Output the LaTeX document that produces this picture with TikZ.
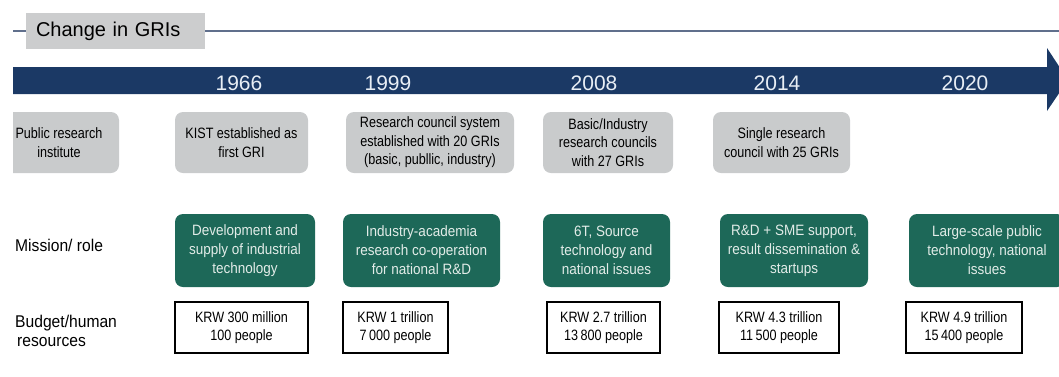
\documentclass[tikz,border=0pt]{standalone}
\usepackage{fontspec}
\setmainfont{Liberation Sans}
\newfontfamily\narrowfont[FakeStretch=0.84]{Liberation Sans}
\newfontfamily\rolefont[FakeStretch=0.9]{Liberation Sans}
\newfontfamily\labelfont[FakeStretch=0.92]{Liberation Sans}
\usetikzlibrary{positioning}
\definecolor{bandblue}{RGB}{27,57,101}
\definecolor{rulegray}{RGB}{96,111,140}
\definecolor{eragray}{RGB}{201,203,204}
\definecolor{titlegray}{RGB}{204,205,206}
\definecolor{rolegreen}{RGB}{29,104,88}
\definecolor{roletext}{RGB}{226,236,232}
\definecolor{yeartext}{RGB}{232,238,245}

\begin{document}
\begin{tikzpicture}[
  x=1pt, y=-1pt,
  box/.style={rectangle, rounded corners=8pt, align=center, inner sep=0pt},
  era/.style={box, fill=eragray, minimum height=61pt, text=black, font=\narrowfont\fontsize{15}{18.5}\selectfont},
  role/.style={box, fill=rolegreen, minimum height=73pt, text=roletext, font=\rolefont\fontsize{15}{19}\selectfont},
  fund/.style={rectangle, draw=black, line width=1.3pt, minimum height=51pt, align=center, inner sep=0pt, font=\narrowfont\fontsize{15}{17.5}\selectfont},
  titlebox/.style={rectangle, fill=titlegray, minimum height=36pt, text width=159pt, inner xsep=10pt, inner ysep=0pt, align=left, font=\fontsize{20}{22}\selectfont},
  year/.style={anchor=base, text=yeartext, font=\fontsize{21}{24}\selectfont},
  rowlabel/.style={anchor=west, align=left, inner sep=0pt, font=\labelfont\fontsize{17}{19}\selectfont},
  rule/.style={draw=rulegray, line width=2pt}
]
\clip (0,0) rectangle (1059,376);

% heading
\node[titlebox] (title) at (115.5,31) {Change in GRIs};
\coordinate (ruleL) at (13,31);
\coordinate (ruleR) at (1059,31);
\draw[rule] (ruleL) -- (title.west);
\draw[rule] (title.east) -- (ruleR);

% time line
\fill[bandblue] (13,67) -- (1047,67) -- (1047,48) -- (1068,80) -- (1047,111) -- (1047,94) -- (13,94) -- cycle;
\node[year] (y1966) at (239,90) {1966};
\node[year] (y1999) at (388,90) {1999};
\node[year] (y2008) at (594,90) {2008};
\node[year] (y2014) at (777,90) {2014};
\node[year] (y2020) at (965,90) {2020};

% institutes
\begin{scope}
  \clip (13,100) rectangle (140,185);
  \node[era, minimum width=120pt] (era0) at (59,142.5) {Public research\\institute};
\end{scope}
\node[era, minimum width=133pt] (era1) at (241.5,142.5) {KIST established as\\first GRI};
\node[era, minimum width=168pt] (era2) at (430,142.5) {Research council system\\established with 20 GRIs\\(basic, publlic, industry)};
\node[era, minimum width=130pt] (era3) at (608,142.5) {Basic/Industry\\research councils\\with 27 GRIs};
\node[era, minimum width=137pt] (era4) at (781.5,142.5) {Single research\\council with 25 GRIs};

% mission / role
\node[rowlabel] (mission) at (15,245) {Mission/ role};
\node[role, minimum width=140pt] (role1) at (245,250.5) {Development and\\supply of industrial\\technology};
\node[role, minimum width=157pt] (role2) at (421.5,250.5) {Industry-academia\\research co-operation\\for national R\&D};
\node[role, minimum width=127pt] (role3) at (606.5,250.5) {6T, Source\\technology and\\national issues};
\node[role, minimum width=148pt] (role4) at (794,250.5) {R\&D + SME support,\\result dissemination \&\\startups};
\node[role, minimum width=156pt] (role5) at (987,250.5) {Large-scale public\\technology, national\\issues};

% budget / human resources
\node[rowlabel] (budget) at (15,331) {Budget/human\\\hspace*{2pt}resources};
\node[fund, minimum width=133pt] (fund1) at (241.5,327.5) {KRW 300 million\\100 people};
\node[fund, minimum width=105pt] (fund2) at (395.5,327.5) {KRW 1 trillion\\7\,000 people};
\node[fund, minimum width=113pt] (fund3) at (603.5,327.5) {KRW 2.7 trillion\\13\,800 people};
\node[fund, minimum width=120pt] (fund4) at (779,327.5) {KRW 4.3 trillion\\11\,500 people};
\node[fund, minimum width=116pt] (fund5) at (964,327.5) {KRW 4.9 trillion\\15\,400 people};
\end{tikzpicture}
\end{document}
